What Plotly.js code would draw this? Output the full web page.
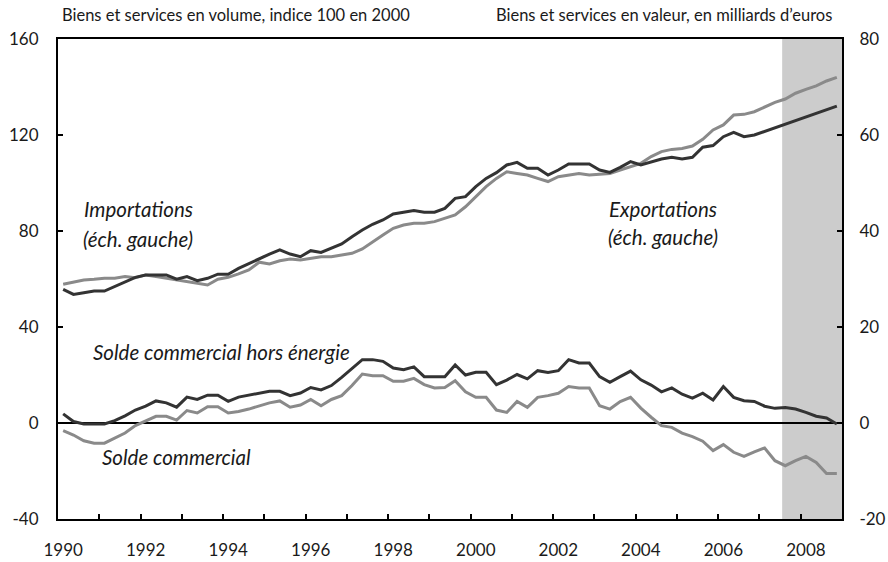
<!DOCTYPE html>
<html>
<head>
<meta charset="utf-8">
<script src="https://cdn.plot.ly/plotly-3.0.1.min.js"></script>
<style>html,body{margin:0;padding:0;background:#fff;}#chart{width:888px;height:562px;}</style>
</head>
<body>
<div id="chart"></div>
<script>
// Quarterly data, 1990 Q1 .. 2008 Q4
const startYear = 1990;
const nQuarters = 76;

// Left axis: volume index, 100 in 2000
const exportations = [55.7,53.6,54.3,55.0,55.0,56.8,58.9,60.7,61.7,61.7,61.7,59.9,61.0,59.3,60.3,62.0,
62.0,64.4,66.5,68.6,70.4,72.1,70.4,69.3,71.8,71.1,72.8,74.6,77.6,80.4,82.8,84.6,
87.1,87.8,88.5,87.8,87.8,89.4,93.6,94.3,98.5,101.9,104.3,107.5,108.6,106.1,106.1,103.3,
105.4,107.9,107.9,107.9,105.4,104.4,106.5,108.9,107.5,108.9,110.0,110.7,110.0,110.7,114.9,115.6,
119.3,121.1,119.3,120.0,121.5,123.0,124.5,126.0,127.5,129.0,130.8,132.0];

const importations = [57.8,58.6,59.6,59.9,60.3,60.3,61.0,60.5,61.7,61.0,60.3,59.6,58.9,57.9,57.5,59.9,
60.7,62.1,63.8,67.0,66.3,67.6,68.3,67.9,68.6,69.3,69.3,70.0,70.7,72.5,75.5,78.3,
81.1,82.5,83.2,83.2,83.9,85.3,86.7,90.1,94.3,98.5,101.9,104.7,104.0,103.3,101.9,100.6,
102.6,103.3,104.0,103.3,103.8,104.0,105.4,106.8,108.2,111.0,113.1,114.0,114.4,115.4,118.2,122.1,
124.2,128.3,128.6,129.7,131.8,133.6,135.0,137.4,139.0,140.5,142.5,144.0];

// Right axis: value, billions of euros
const soldeHorsEnergie = [1.9,0.3,-0.2,-0.2,-0.2,0.5,1.5,2.7,3.5,4.6,4.2,3.3,5.4,4.9,5.8,5.8,
4.5,5.4,5.8,6.25,6.6,6.6,5.7,6.25,7.4,6.9,7.8,9.5,11.4,13.2,13.2,12.85,
11.45,11.1,11.7,9.65,9.65,9.65,12.1,10.0,10.55,10.55,8.0,8.95,10.1,9.2,10.9,10.55,
10.9,13.2,12.5,12.5,9.65,8.5,9.65,10.8,9.0,7.9,6.5,7.3,6.0,5.2,6.2,4.8,
7.6,5.35,4.65,4.5,3.5,3.05,3.25,2.9,2.2,1.4,1.05,-0.2];

const soldeCommercial = [-1.6,-2.5,-3.7,-4.2,-4.2,-3.2,-2.1,-0.55,0.5,1.4,1.4,0.6,2.6,2.1,3.4,3.4,
2.1,2.4,2.9,3.6,4.2,4.6,3.3,3.75,4.9,3.6,4.9,5.7,7.8,10.2,9.85,9.85,
8.7,8.7,9.3,8.0,7.3,7.4,8.8,6.5,5.35,5.35,2.7,2.2,4.5,3.25,5.35,5.7,
6.2,7.6,7.3,7.3,3.6,2.9,4.45,5.35,3.1,1.2,-0.55,-0.9,-2.1,-2.85,-3.8,-5.75,
-4.5,-6.1,-6.95,-6.0,-5.2,-7.85,-8.9,-7.85,-6.95,-8.2,-10.5,-10.5];

const tickYears = [1990,1992,1994,1996,1998,2000,2002,2004,2006,2008];
const tickLabels = ["1990","1992","1994","1996","1998","2000","2002","2004","2006","2008"];
const leftTicks = [-40,0,40,80,120,160];
const leftLabels = ["-40","0","40","80","120","160"];
const rightTicks = [-20,0,20,40,60,80];
const rightLabels = ["-20","0","20","40","60","80"];
const forecastStart = 2007.55;
const forecastEnd = 2009;

const xq = [];
for (let i = 0; i < nQuarters; i++) xq.push(startYear + (i + 0.5) / 4);

const DARK = '#333333', GRAY = '#8a8a8a';
const FONT = 'Lato, "Open Sans", sans-serif';
const TXT = '#1a1a1a';

const traces = [
  {x: xq, y: importations, type: 'scatter', mode: 'lines', line: {color: GRAY, width: 3}, xaxis: 'x', yaxis: 'y', hoverinfo: 'skip'},
  {x: xq, y: exportations, type: 'scatter', mode: 'lines', line: {color: DARK, width: 3}, xaxis: 'x', yaxis: 'y', hoverinfo: 'skip'},
  {x: xq, y: soldeCommercial, type: 'scatter', mode: 'lines', line: {color: GRAY, width: 3}, xaxis: 'x', yaxis: 'y2', hoverinfo: 'skip'},
  {x: xq, y: soldeHorsEnergie, type: 'scatter', mode: 'lines', line: {color: DARK, width: 3}, xaxis: 'x', yaxis: 'y2', hoverinfo: 'skip'},
  {x: [tickYears[0] + 0.125], y: [0], type: 'scatter', mode: 'markers', marker: {opacity: 0}, xaxis: 'x2', yaxis: 'y', hoverinfo: 'skip'}
];

const layout = {
  width: 888, height: 562,
  margin: {l: 58, r: 46, t: 39, b: 43, pad: 0},
  paper_bgcolor: '#ffffff', plot_bgcolor: '#ffffff',
  showlegend: false,
  font: {family: FONT, size: 17, color: TXT},
  xaxis: {
    range: [1990, 2009], tickmode: 'linear', tick0: 1990, dtick: 1,
    ticks: 'inside', ticklen: 5, tickwidth: 2, tickcolor: '#000',
    showticklabels: false, showgrid: false, zeroline: false,
    showline: true, linecolor: '#000', linewidth: 2, mirror: true
  },
  xaxis2: {
    overlaying: 'x', anchor: 'y', side: 'bottom', range: [1990, 2009],
    tickmode: 'array', tickvals: tickYears.map(v => v + 0.125), ticktext: tickLabels,
    ticks: '', showgrid: false, zeroline: false, showline: false,
    ticklabelstandoff: 19, tickfont: {family: FONT, size: 17, color: TXT}
  },
  yaxis: {
    range: [-40, 160], tickmode: 'array', tickvals: leftTicks, ticktext: leftLabels,
    ticks: 'inside', ticklen: 5, tickwidth: 2, tickcolor: '#000',
    showgrid: false, zeroline: true, zerolinecolor: '#000', zerolinewidth: 1.5,
    showline: true, linecolor: '#000', linewidth: 2, mirror: true,
    ticklabelstandoff: 14, tickfont: {family: FONT, size: 17, color: TXT}
  },
  yaxis2: {
    overlaying: 'y', side: 'right', range: [-20, 80], tickmode: 'array', tickvals: rightTicks, ticktext: rightLabels,
    ticks: 'inside', ticklen: 5, tickwidth: 2, tickcolor: '#000',
    showgrid: false, zeroline: false,
    showline: true, linecolor: '#000', linewidth: 2,
    ticklabelstandoff: 12, tickfont: {family: FONT, size: 17, color: TXT}
  },
  shapes: [
    {type: 'rect', xref: 'x', yref: 'paper', x0: forecastStart, x1: forecastEnd, y0: 0, y1: 1,
     fillcolor: '#cccccc', line: {width: 0}, layer: 'below'}
  ],
  annotations: [
    {xref: 'paper', yref: 'paper', x: 0.002, y: 1.05, xanchor: 'left', yanchor: 'middle', showarrow: false,
     text: 'Biens et services en volume, indice 100 en 2000', font: {family: FONT, size: 16.5, color: TXT}},
    {xref: 'paper', yref: 'paper', x: 0.99, y: 1.05, xanchor: 'right', yanchor: 'middle', showarrow: false,
     text: 'Biens et services en valeur, en milliards d\u2019euros', font: {family: FONT, size: 16.5, color: TXT}},
    {xref: 'x', yref: 'y', x: 1991.94, y: 89.2, showarrow: false, text: '<i>Importations</i>',
     font: {family: FONT, size: 20.5, color: TXT}},
    {xref: 'x', yref: 'y', x: 1991.94, y: 76.7, showarrow: false, text: '<i>(éch. gauche)</i>',
     font: {family: FONT, size: 20.5, color: TXT}},
    {xref: 'x', yref: 'y', x: 2004.66, y: 89.2, showarrow: false, text: '<i>Exportations</i>',
     font: {family: FONT, size: 20.5, color: TXT}},
    {xref: 'x', yref: 'y', x: 2004.66, y: 77.6, showarrow: false, text: '<i>(éch. gauche)</i>',
     font: {family: FONT, size: 20.5, color: TXT}},
    {xref: 'x', yref: 'y', x: 1993.97, y: 29.6, showarrow: false, text: '<i>Solde commercial hors énergie</i>',
     font: {family: FONT, size: 20.5, color: TXT}},
    {xref: 'x', yref: 'y', x: 1992.88, y: -14.2, showarrow: false, text: '<i>Solde commercial</i>',
     font: {family: FONT, size: 20.5, color: TXT}}
  ]
};

Plotly.newPlot('chart', traces, layout, {staticPlot: true, displayModeBar: false});
</script>
</body>
</html>
